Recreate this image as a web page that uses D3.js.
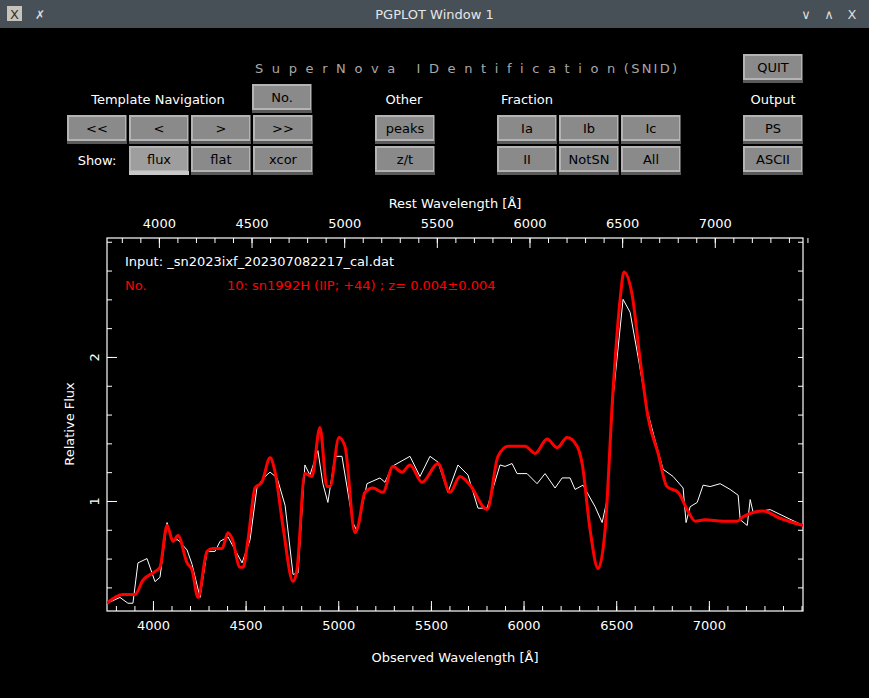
<!DOCTYPE html>
<html>
<head>
<meta charset="utf-8">
<script src="https://cdn.jsdelivr.net/npm/d3@7"></script>
<style>
  body { margin: 0; background: #000; }
  svg { display: block; font-family: "DejaVu Sans", sans-serif; }
</style>
</head>
<body>
<svg id="chart" width="869" height="698"></svg>
<script>
// data
const obsWave = [3752, 3822, 3865, 3892, 3919, 3968, 4011, 4038, 4076, 4103, 4135, 4184, 4211, 4254, 4292, 4335, 4362, 4405, 4481, 4524, 4562, 4605, 4632, 4670, 4713, 4756, 4783, 4820, 4847, 4890, 4917, 4944, 4982, 5020, 5079, 5101, 5155, 5225, 5252, 5290, 5387, 5441, 5495, 5538, 5592, 5646, 5700, 5754, 5803, 5873, 5900, 5938, 5965, 6019, 6073, 6116, 6170, 6208, 6251, 6278, 6321, 6386, 6424, 6451, 6483, 6537, 6575, 6618, 6667, 6710, 6753, 6807, 6861, 6877, 6899, 6937, 6969, 7007, 7061, 7115, 7158, 7169, 7207, 7223, 7239, 7331, 7508];
const obsFlux = [0.29, 0.33, 0.29, 0.29, 0.57, 0.60, 0.44, 0.47, 0.85, 0.73, 0.73, 0.66, 0.56, 0.33, 0.65, 0.65, 0.72, 0.75, 0.57, 0.73, 1.10, 1.17, 1.20, 1.16, 0.97, 0.49, 0.50, 1.25, 1.18, 1.35, 1.12, 0.99, 1.31, 1.31, 0.85, 0.79, 1.12, 1.16, 1.13, 1.24, 1.31, 1.17, 1.31, 1.27, 1.06, 1.25, 1.18, 0.95, 0.95, 1.25, 1.24, 1.26, 1.19, 1.19, 1.12, 1.19, 1.09, 1.16, 1.16, 1.08, 1.11, 0.96, 0.85, 1.01, 1.72, 2.40, 2.31, 2.00, 1.63, 1.42, 1.22, 1.17, 1.09, 0.85, 0.96, 0.99, 1.11, 1.10, 1.12, 1.08, 1.04, 0.87, 0.83, 1.01, 0.92, 0.94, 0.83];

const tplWave = [3752, 3838, 3903, 3946, 4011, 4038, 4076, 4108, 4135, 4184, 4211, 4243, 4292, 4324, 4373, 4405, 4427, 4470, 4486, 4513, 4551, 4588, 4632, 4659, 4702, 4756, 4777, 4820, 4858, 4901, 4939, 4955, 5004, 5036, 5090, 5106, 5144, 5187, 5241, 5295, 5344, 5387, 5452, 5538, 5603, 5657, 5711, 5803, 5862, 5916, 6008, 6062, 6127, 6181, 6235, 6289, 6316, 6359, 6402, 6440, 6483, 6521, 6542, 6586, 6629, 6672, 6726, 6774, 6834, 6883, 6926, 6980, 7077, 7153, 7185, 7293, 7384, 7508];
const tplFlux = [0.29, 0.35, 0.35, 0.45, 0.51, 0.54, 0.83, 0.72, 0.76, 0.57, 0.52, 0.33, 0.65, 0.67, 0.67, 0.78, 0.74, 0.54, 0.54, 0.73, 1.09, 1.13, 1.30, 1.20, 0.82, 0.44, 0.52, 1.19, 1.17, 1.51, 1.10, 1.10, 1.44, 1.38, 0.78, 0.82, 1.06, 1.09, 1.06, 1.24, 1.20, 1.25, 1.13, 1.26, 1.06, 1.17, 1.11, 0.94, 1.31, 1.38, 1.38, 1.33, 1.43, 1.37, 1.44, 1.38, 1.26, 0.80, 0.53, 0.80, 1.77, 2.40, 2.59, 2.43, 1.98, 1.58, 1.33, 1.10, 1.06, 0.94, 0.86, 0.87, 0.86, 0.86, 0.89, 0.93, 0.88, 0.83];

const obsTicks = [4000, 4500, 5000, 5500, 6000, 6500, 7000];
const restTicks = [4000, 4500, 5000, 5500, 6000, 6500, 7000];
const fluxTicks = [1, 2];

const navRow = ['<<', '<', '>', '>>'];
const showRow = ['flux', 'flat', 'xcor'];
const fracRow1 = ['Ia', 'Ib', 'Ic'];
const fracRow2 = ['II', 'NotSN', 'All'];

const svg = d3.select('#chart');
const W = 869, H = 698;

// window frame
svg.append('rect').attr('width', W).attr('height', H).attr('fill', '#000');
svg.append('rect').attr('width', W).attr('height', 28).attr('fill', '#475057');
svg.append('text').text('PGPLOT Window 1').attr('x', W / 2).attr('y', 19)
  .attr('fill', '#e6e6e6').style('font-size', '13px').style('text-anchor', 'middle');
svg.append('rect').attr('x', 7).attr('y', 6).attr('width', 15).attr('height', 15).attr('fill', '#c9c4bb');
svg.append('text').text('X').attr('x', 14.5).attr('y', 19).attr('fill', '#333').style('font-size', '13px').style('text-anchor', 'middle');
svg.append('text').text('✗').attr('x', 40).attr('y', 19).attr('fill', '#ddd').style('font-size', '12px').style('text-anchor', 'middle');
[['∨', 806], ['∧', 829], ['X', 852]].forEach(d => {
  svg.append('text').text(d[0]).attr('x', d[1]).attr('y', 19).attr('fill', '#ddd')
    .style('font-size', '13px').style('text-anchor', 'middle');
});

// buttons
function button(label, x, y, w, pressed) {
  const g = svg.append('g');
  g.append('rect').attr('x', x).attr('y', y).attr('width', w).attr('height', 29).attr('fill', '#5a5a5a');
  g.append('rect').attr('x', x).attr('y', y).attr('width', w - 1).attr('height', 26).attr('fill', '#b4b4b4');
  g.append('rect').attr('x', x + 2).attr('y', y + 2).attr('width', w - 4).attr('height', 22)
    .attr('fill', pressed ? '#9e9e9e' : '#8a8a8a');
  if (pressed) g.append('rect').attr('x', x).attr('y', y + 25).attr('width', w).attr('height', 4).attr('fill', '#c8c8c8');
  g.append('text').text(label).attr('x', x + w / 2).attr('y', y + 18)
    .attr('fill', '#000').style('font-size', '13px').style('text-anchor', 'middle');
}
button('QUIT', 743, 54, 60);
button('No.', 252, 84, 60);
navRow.forEach((d, i) => button(d, 67 + i * 62, 115, 60));
showRow.forEach((d, i) => button(d, 129 + i * 62, 146, 60, i === 0));
button('peaks', 375, 115, 60);
button('z/t', 375, 146, 60);
fracRow1.forEach((d, i) => button(d, 497 + i * 62, 115, 60));
fracRow2.forEach((d, i) => button(d, 497 + i * 62, 146, 60));
button('PS', 743, 115, 60);
button('ASCII', 743, 146, 60);

const label = (t, x, y, anchor) => svg.append('text').text(t).attr('x', x).attr('y', y)
  .attr('fill', '#fff').style('font-size', '13px').style('text-anchor', anchor || 'middle');
label('Template Navigation', 158, 104);
label('Other', 404, 104);
label('Fraction', 527, 104);
label('Output', 773, 104);
label('Show:', 97, 165);
svg.append('text').text('S u p e r N o v a   I D e n t i f i c a t i o n (SNID)')
  .attr('x', 255).attr('y', 73).attr('fill', '#a8a8a8')
  .style('font-size', '13px').style('white-space', 'pre').attr('textLength', 422);

// plot
const L = 107, R = 803, T = 238, B = 611;
const x = d3.scaleLinear().domain([3752, 7508]).range([L, R]);
const xRest = d3.scaleLinear().domain([3720, 7476]).range([L, R]);
const y = d3.scaleLinear().domain([0.236, 2.826]).range([B, T]);

const axisStyle = g => {
  g.select('.domain').remove();
  g.selectAll('line').attr('stroke', '#fff');
  g.selectAll('text').attr('fill', '#fff').style('font-size', '13px').style('font-family', '"DejaVu Sans", sans-serif');
};
const minorX = d3.range(3800, 7501, 100);
const minorY = d3.range(0.4, 2.81, 0.2);

svg.append('g').attr('transform', `translate(0,${B})`)
  .call(d3.axisBottom(x).tickValues(minorX).tickSize(-5).tickFormat(''))
  .call(axisStyle);
svg.append('g').attr('transform', `translate(0,${B})`)
  .call(d3.axisBottom(x).tickValues(obsTicks).tickSize(-10).tickPadding(10).tickFormat(d3.format('d')))
  .call(axisStyle);
svg.append('g').attr('transform', `translate(0,${T})`)
  .call(d3.axisTop(xRest).tickValues(minorX).tickSize(-5).tickFormat(''))
  .call(axisStyle);
svg.append('g').attr('transform', `translate(0,${T})`)
  .call(d3.axisTop(xRest).tickValues(restTicks).tickSize(-10).tickPadding(10).tickFormat(d3.format('d')))
  .call(axisStyle);
svg.append('g').attr('transform', `translate(${L},0)`)
  .call(d3.axisLeft(y).tickValues(minorY).tickSize(-5).tickFormat(''))
  .call(axisStyle);
svg.append('g').attr('transform', `translate(${L},0)`)
  .call(d3.axisLeft(y).tickValues(fluxTicks).tickSize(-10).tickPadding(0).tickFormat(d3.format('d')))
  .call(axisStyle)
  .selectAll('text').attr('transform', d => `translate(-8,0) rotate(-90)`).attr('x', 0).attr('dy', 0)
  .style('text-anchor', 'middle').attr('y', 0);
svg.append('g').attr('transform', `translate(${R},0)`)
  .call(d3.axisRight(y).tickValues(minorY).tickSize(-5).tickFormat(''))
  .call(axisStyle);
svg.append('rect').attr('x', L).attr('y', T).attr('width', R - L).attr('height', B - T)
  .attr('fill', 'none').attr('stroke', '#fff').attr('stroke-width', 1.2);

// clip
svg.append('clipPath').attr('id', 'clip').append('rect')
  .attr('x', L).attr('y', T).attr('width', R - L).attr('height', B - T);

const line = d3.line().x(d => x(d[0])).y(d => y(d[1]));
svg.append('path').datum(d3.zip(obsWave, obsFlux)).attr('d', line)
  .attr('fill', 'none').attr('stroke', '#fff').attr('stroke-width', 1).attr('clip-path', 'url(#clip)');
svg.append('path').datum(d3.zip(tplWave, tplFlux)).attr('d', line.curve(d3.curveMonotoneX))
  .attr('fill', 'none').attr('stroke', '#ff0000').attr('stroke-width', 3).attr('clip-path', 'url(#clip)');

// labels
label('Rest Wavelength [Å]', 455, 208);
label('Observed Wavelength [Å]', 455, 662);
svg.append('text').text('Relative Flux').attr('transform', 'translate(74,424) rotate(-90)')
  .attr('fill', '#fff').style('font-size', '13px').style('text-anchor', 'middle');
label('Input: _sn2023ixf_202307082217_cal.dat', 125, 266, 'start');
svg.append('text').text('No.').attr('x', 125).attr('y', 290).attr('fill', '#f00').style('font-size', '13px');
svg.append('text').text('10: sn1992H (IIP; +44) ; z= 0.004±0.004').attr('x', 227).attr('y', 290)
  .attr('fill', '#f00').style('font-size', '13px');
</script>
</body>
</html>
